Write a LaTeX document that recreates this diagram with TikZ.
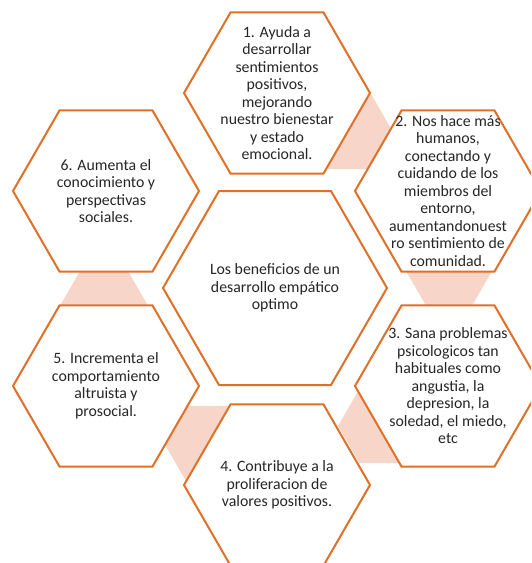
\documentclass[tikz,border=0pt]{standalone}
\usepackage{fontspec}
\setmainfont{Carlito}
\usepackage{tikz}
\usetikzlibrary{shapes.geometric}
\definecolor{hexorange}{RGB}{222,112,40}
\definecolor{linkpink}{RGB}{247,213,200}
\definecolor{textgray}{RGB}{38,38,38}

\begin{document}
\begin{tikzpicture}[x=1pt, y=-1pt,
    hexa/.style={regular polygon, regular polygon sides=6, inner sep=0pt, outer sep=0pt,
        minimum size=186pt, draw=hexorange, line width=2pt, fill=white},
    link/.style={regular polygon, regular polygon sides=6, inner sep=0pt, outer sep=0pt,
        minimum size=86pt, fill=linkpink},
    txt/.style={align=center, text=textgray, inner sep=0pt, font=\fontsize{15.8}{17.5}\selectfont}]
    % Frame of the slide
    \useasboundingbox (0,0) rectangle (531,563);
    \clip (0,0) rectangle (531,563);

    % The pink links behind the hexagons
    \foreach \n/\x/\y in {l12/350/132, l23/449/271, l34/381/426, l45/207/443, l56/104/304} {
        \node[link] (\n) at (\x,\y) {};
    }

    % The six outer hexagons and the central one
    \foreach \n/\x/\y in {h1/277/93, h2/448/191, h3/448/386, h4/277/485, h5/106/386, h6/106/191} {
        \node[hexa] (\n) at (\x,\y) {};
    }
    \node[hexa, minimum size=224pt] (core) at (275,288) {};

    % Texts
    \node[txt] at (h1) {1. Ayuda a\\desarrollar\\sentimientos\\positivos,\\mejorando\\nuestro bienestar\\y estado\\emocional.};
    \node[txt] at (h2) {2. Nos hace más\\humanos,\\conectando y\\cuidando de los\\miembros del\\entorno,\\aumentandonuest\\ro sentimiento de\\comunidad.};
    \node[txt] at (h3) {3. Sana problemas\\psicologicos tan\\habituales como\\angustia, la\\depresion, la\\soledad, el miedo,\\etc};
    \node[txt] at (h4) {4. Contribuye a la\\proliferacion de\\valores positivos.};
    \node[txt] at (h5) {5. Incrementa el\\comportamiento\\altruista y\\prosocial.};
    \node[txt] at (h6) {6. Aumenta el\\conocimiento y\\perspectivas\\sociales.};
    \node[txt] at (core) {Los beneficios de un\\desarrollo empático\\optimo};
\end{tikzpicture}
\end{document}
